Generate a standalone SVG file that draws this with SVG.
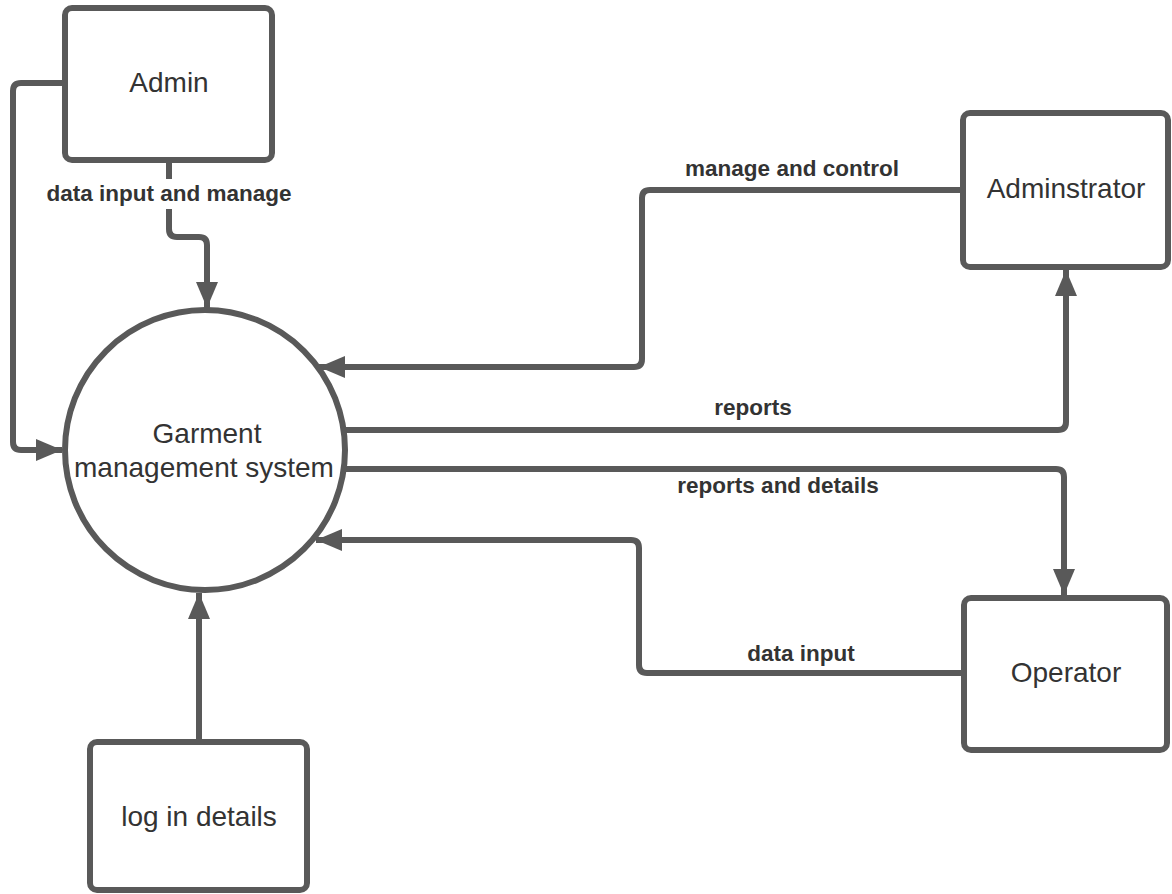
<svg xmlns="http://www.w3.org/2000/svg" width="1172" height="894" viewBox="0 0 1172 894">
<style>
.box{fill:#fff;stroke:#595959;stroke-width:6}
.conn{fill:none;stroke:#595959;stroke-width:6;stroke-linejoin:round}
.nt{font-family:"Liberation Sans",Arial,sans-serif;font-size:28px;fill:#333;text-anchor:middle}
.lb{font-family:"Liberation Sans",Arial,sans-serif;font-size:22.5px;font-weight:bold;fill:#333;text-anchor:middle}
</style>
<defs>
<marker id="arr" markerUnits="userSpaceOnUse" markerWidth="28" markerHeight="24" refX="26" refY="11" orient="auto">
<path d="M0,0 L26,11 L0,22 Z" fill="#595959"/>
</marker>
</defs>
<rect width="1172" height="894" fill="#fff"/>
<g id="connectors">
<path class="conn" d="M65,83 H21 Q13,83 13,91 V442 Q13,450 21,450 H62" marker-end="url(#arr)"/>
<path class="conn" d="M169,160 V229 Q169,237 177,237 H199 Q207,237 207,245 V308" marker-end="url(#arr)"/>
<path class="conn" d="M963,190 H650 Q642,190 642,198 V359 Q642,367 634,367 H319" marker-end="url(#arr)"/>
<path class="conn" d="M343,430 H1058 Q1066,430 1066,422 V270" marker-end="url(#arr)"/>
<path class="conn" d="M343,469 H1056 Q1064,469 1064,477 V595" marker-end="url(#arr)"/>
<path class="conn" d="M964,673 H647 Q639,673 639,665 V548 Q639,540 631,540 H316" marker-end="url(#arr)"/>
<path class="conn" d="M199,742 V593" marker-end="url(#arr)"/>
<rect x="42" y="179" width="256" height="30" fill="#fff"/>
<text class="lb" x="169" y="201">data input and manage</text>
<text class="lb" x="792" y="176">manage and control</text>
<text class="lb" x="753" y="415">reports</text>
<text class="lb" x="778" y="493">reports and details</text>
<text class="lb" x="801" y="661">data input</text>
</g>
<g id="admin">
<rect class="box" x="65" y="8" width="207" height="152" rx="7"/>
<text class="nt" x="169" y="92">Admin</text>
</g>
<g id="system">
<circle class="box" cx="205" cy="450" r="140"/>
<text class="nt" x="207" y="443">Garment</text>
<text class="nt" x="204" y="477">management system</text>
</g>
<g id="adminstrator">
<rect class="box" x="963" y="113" width="205" height="154" rx="7"/>
<text class="nt" x="1066" y="198">Adminstrator</text>
</g>
<g id="operator">
<rect class="box" x="964" y="598" width="203" height="152" rx="7"/>
<text class="nt" x="1066" y="682">Operator</text>
</g>
<g id="login">
<rect class="box" x="90" y="742" width="217" height="148" rx="7"/>
<text class="nt" x="199" y="826">log in details</text>
</g>
</svg>
